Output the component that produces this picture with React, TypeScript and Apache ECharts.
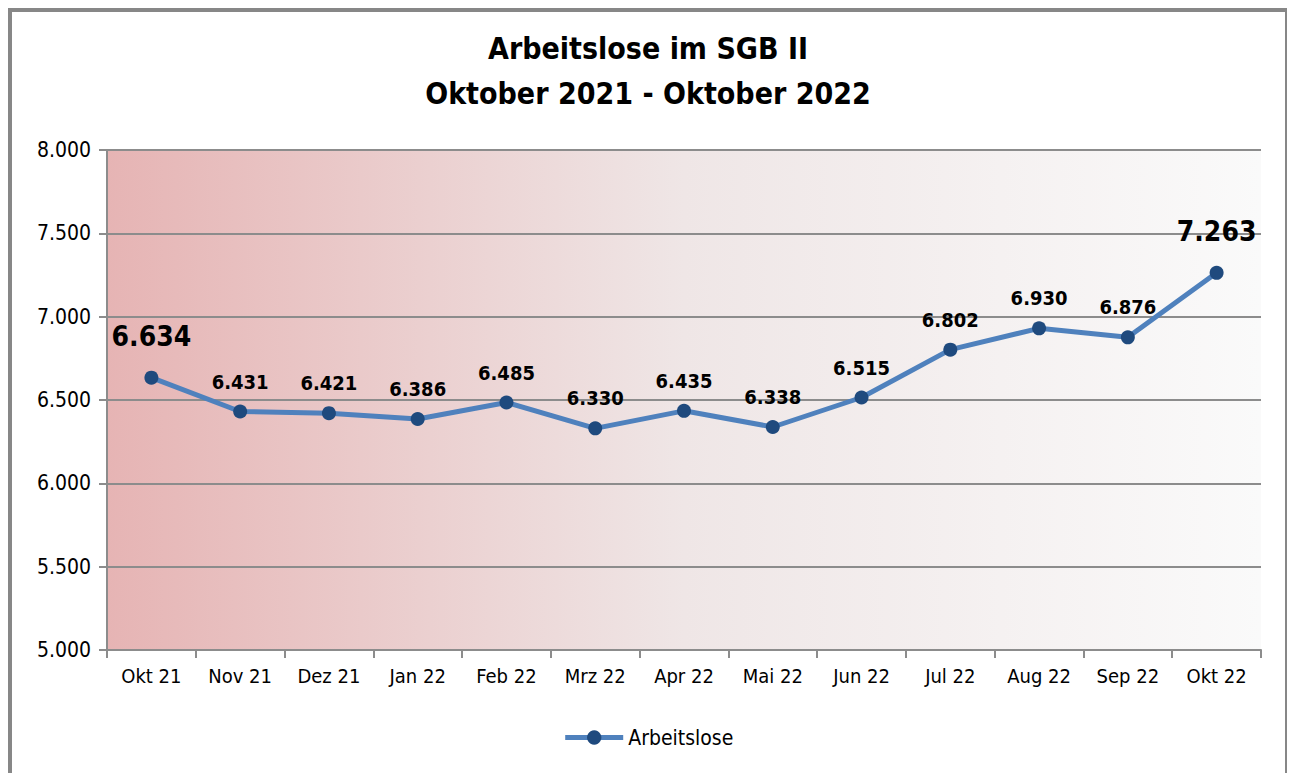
import React, { useEffect, useRef } from "react";
import * as echarts from "echarts";

const categories = ["Okt 21", "Nov 21", "Dez 21", "Jan 22", "Feb 22", "Mrz 22", "Apr 22", "Mai 22", "Jun 22", "Jul 22", "Aug 22", "Sep 22", "Okt 22"];
const values = [6634, 6431, 6421, 6386, 6485, 6330, 6435, 6338, 6515, 6802, 6930, 6876, 7263];
const seriesName = "Arbeitslose";
const titleLines = ["Arbeitslose im SGB II", "Oktober 2021 - Oktober 2022"];

const FONT = "'DejaVu Sans Condensed', 'Liberation Sans Narrow', 'Roboto', sans-serif";

const fmt = (v: number) => {
  const s = Math.round(v).toString();
  return s.length > 3 ? s.slice(0, s.length - 3) + "." + s.slice(-3) : s;
};

export default function App() {
  const ref = useRef<HTMLDivElement>(null);
  useEffect(() => {
    if (!ref.current) return;
    const chart = echarts.init(ref.current, null, { renderer: "svg" });
    const last = values.length - 1;
    chart.setOption({
      animation: false,
      textStyle: { fontFamily: FONT },
      title: {
        text: titleLines.join("\n"),
        left: "center",
        top: 13,
        textStyle: { fontFamily: FONT, fontSize: 30, fontWeight: "bold", color: "#000", lineHeight: 45 },
      },
      graphic: [
        {
          type: "rect",
          shape: { x: 2, y: 2, width: 1277, height: 820 },
          style: { fill: "none", stroke: "#878787", lineWidth: 4 },
          silent: true,
        },
      ],
      legend: {
        bottom: 20,
        left: "center",
        itemWidth: 58,
        itemHeight: 18,
        itemGap: 4,
        lineStyle: { width: 5 },
        textStyle: { fontFamily: FONT, fontSize: 21, color: "#000" },
        data: [{ name: seriesName }],
      },
      grid: {
        left: 99,
        right: 27,
        top: 142,
        bottom: 123,
        show: true,
        borderWidth: 0,
        backgroundColor: new echarts.graphic.LinearGradient(0, 0, 1, 0, [
          { offset: 0, color: "#e6b4b4" },
          { offset: 0.5, color: "#efe6e6" },
          { offset: 1, color: "#fafafa" },
        ]),
      },
      xAxis: {
        type: "category",
        data: categories,
        boundaryGap: true,
        axisLine: { lineStyle: { color: "#8c8c8c", width: 2 } },
        axisTick: { show: true, length: 8, interval: 0, lineStyle: { color: "#8c8c8c", width: 2 } },
        axisLabel: { color: "#000", fontSize: 20, margin: 16, interval: 0, fontFamily: FONT },
      },
      yAxis: {
        type: "value",
        min: 5000,
        max: 8000,
        interval: 500,
        axisLine: { show: true, lineStyle: { color: "#8c8c8c", width: 2 } },
        axisTick: { show: true, length: 8, lineStyle: { color: "#8c8c8c", width: 2 } },
        splitLine: { lineStyle: { color: "#8c8c8c", width: 2 } },
        axisLabel: { color: "#000", fontSize: 21, margin: 16, fontFamily: FONT, formatter: (v: number) => fmt(v) },
      },
      series: [
        {
          name: seriesName,
          type: "line",
          data: values.map((v, i) =>
            i === 0 || i === last
              ? { value: v, label: { fontSize: 28, distance: 20 } }
              : { value: v }
          ),
          symbol: "circle",
          symbolSize: 14,
          lineStyle: { color: "#4f81bd", width: 5 },
          itemStyle: { color: "#1f4a7e" },
          label: {
            show: true,
            position: "top",
            distance: 13,
            color: "#000",
            fontWeight: "bold",
            fontSize: 20,
            fontFamily: FONT,
            formatter: (p: any) => fmt(p.value),
          },
        },
      ],
    });
    return () => chart.dispose();
  }, []);
  return <div ref={ref} style={{ width: 1280, height: 765 }} />;
}
